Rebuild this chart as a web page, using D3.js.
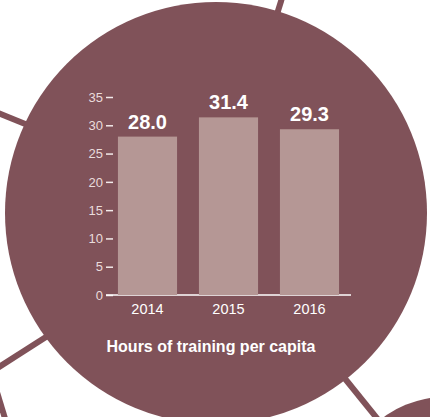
<!DOCTYPE html>
<html>
<head>
<meta charset="utf-8">
<script src="https://cdn.jsdelivr.net/npm/d3@7/dist/d3.min.js"></script>
<style>
  html, body { margin: 0; padding: 0; background: #ffffff; }
  svg { display: block; }
  text { font-family: "Liberation Sans", Arial, Helvetica, sans-serif; }
</style>
</head>
<body>
<svg id="chart" width="430" height="417"></svg>
<script>
// Training hours per employee, by year
const years = ["2014", "2015", "2016"];
const hours = [28.0, 31.4, 29.3];
const yTicks = [0, 5, 10, 15, 20, 25, 30, 35];
const title = "Hours of training per capita";

const bubble = "#805259";
const barFill = "#b59795";

const svg = d3.select("#chart");

// Connector lines that tie the bubble to its neighbours
const connectors = [
  [[282, -2], [274, 24]],
  [[-4, 112], [40, 130]],
  [[-4, 369], [60, 328]],
  [[-7, 379], [7, 425]],
  [[338, 370], [380, 422]]
];
svg.append("g")
  .selectAll("line")
  .data(connectors)
  .join("line")
  .attr("x1", d => d[0][0]).attr("y1", d => d[0][1])
  .attr("x2", d => d[1][0]).attr("y2", d => d[1][1])
  .attr("stroke", bubble)
  .attr("stroke-width", 6);

// Neighbouring bubble peeking in at the corner
svg.append("circle")
  .attr("cx", 445).attr("cy", 500).attr("r", 103)
  .attr("fill", bubble);

// Main bubble
svg.append("circle")
  .attr("cx", 216).attr("cy", 213).attr("r", 211)
  .attr("fill", bubble);

// Scales
const x = d3.scaleBand()
  .domain(years)
  .range([107, 350])
  .paddingInner(0.27)
  .paddingOuter(0.135);

const y = d3.scaleLinear()
  .domain([0, 35])
  .range([295, 97]);

// Y axis: short ticks, no spine
const yAxis = svg.append("g")
  .attr("transform", "translate(113,0)")
  .call(d3.axisLeft(y).tickValues(yTicks).tickSize(7).tickPadding(3).tickFormat(d3.format("d")));
yAxis.select(".domain").remove();
yAxis.selectAll(".tick line")
  .attr("stroke", "#f3ebeb")
  .attr("stroke-width", 1.5);
yAxis.selectAll(".tick text")
  .attr("fill", "#eadcdc")
  .style("font-size", "13px")
  .style("font-family", "'Liberation Sans', Arial, sans-serif");

// Baseline
svg.append("line")
  .attr("x1", 106).attr("x2", 351)
  .attr("y1", y(0)).attr("y2", y(0))
  .attr("stroke", "#ffffff")
  .attr("stroke-width", 1.5);

// Bars
svg.append("g")
  .selectAll("rect")
  .data(years)
  .join("rect")
  .attr("x", d => x(d))
  .attr("width", x.bandwidth())
  .attr("y", (d, i) => y(hours[i]))
  .attr("height", (d, i) => y(0) - y(hours[i]))
  .attr("fill", barFill);

// Value labels
svg.append("g")
  .selectAll("text")
  .data(years)
  .join("text")
  .attr("x", d => x(d) + x.bandwidth() / 2)
  .attr("y", (d, i) => y(hours[i]) - 8)
  .attr("text-anchor", "middle")
  .attr("fill", "#ffffff")
  .style("font-size", "20px")
  .style("font-weight", "bold")
  .text((d, i) => hours[i].toFixed(1));

// Year labels
svg.append("g")
  .selectAll("text")
  .data(years)
  .join("text")
  .attr("x", d => x(d) + x.bandwidth() / 2)
  .attr("y", 314)
  .attr("text-anchor", "middle")
  .attr("fill", "#ffffff")
  .style("font-size", "14.5px")
  .text(d => d);

// Caption
svg.append("text")
  .attr("x", 211)
  .attr("y", 352)
  .attr("text-anchor", "middle")
  .attr("fill", "#ffffff")
  .style("font-size", "16px")
  .style("font-weight", "bold")
  .text(title);
</script>
</body>
</html>
